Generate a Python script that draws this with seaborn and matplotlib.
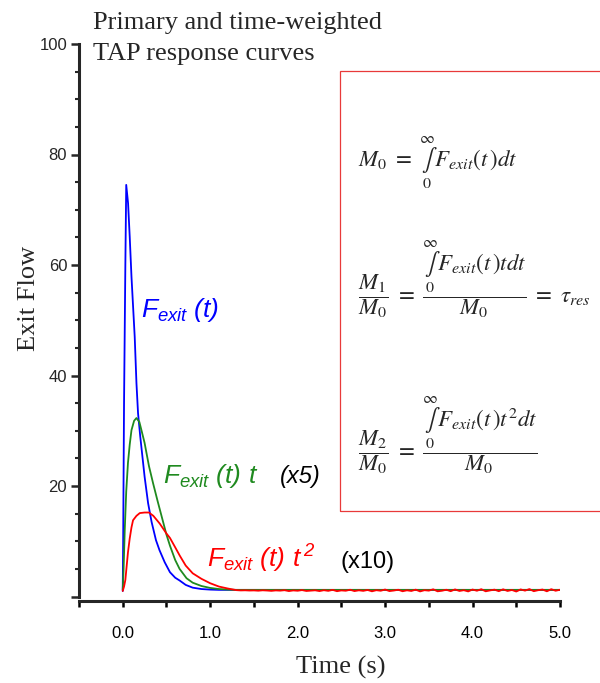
import numpy as np
import pandas as pd
import matplotlib
matplotlib.use("Agg")
import matplotlib.pyplot as plt
import matplotlib.patches as patches
from matplotlib.ticker import MultipleLocator, FixedLocator
import seaborn as sns

# ---------------- data ----------------
blue_t = [0.0, 0.005, 0.015, 0.03, 0.04, 0.061, 0.08, 0.10, 0.137, 0.157, 0.175,
          0.20, 0.25, 0.29, 0.33, 0.38, 0.42, 0.48, 0.54, 0.60, 0.65, 0.72, 0.80,
          0.90, 1.0, 1.1, 1.2, 1.5, 2.0, 3.0, 4.0, 5.0]
blue_v = [1.0, 10.0, 35.0, 60.0, 74.5, 71.2, 65.1, 57.9, 47.0, 38.6, 33.2,
          29.0, 21.7, 16.9, 13.5, 10.2, 8.4, 6.2, 4.4, 3.4, 2.9, 2.1, 1.6,
          1.35, 1.25, 1.2, 1.2, 1.2, 1.2, 1.2, 1.2, 1.2]

green_t = [0.0, 0.01, 0.023, 0.04, 0.06, 0.08, 0.10, 0.13, 0.157, 0.19, 0.214,
           0.25, 0.30, 0.347, 0.40, 0.45, 0.50, 0.54, 0.60, 0.65, 0.73, 0.80,
           0.90, 1.0, 1.1, 1.2, 1.3, 1.5, 2.0, 3.0, 4.0, 5.0]
green_v = [1.2, 5.0, 12.0, 19.0, 24.2, 27.5, 30.1, 31.8, 32.3, 31.6, 30.1,
           27.8, 23.6, 20.5, 17.2, 14.2, 11.2, 9.2, 6.6, 5.0, 3.3, 2.5,
           1.9, 1.55, 1.35, 1.25, 1.2, 1.2, 1.2, 1.2, 1.2, 1.2]

red_t = [0.0, 0.015, 0.03, 0.045, 0.06, 0.08, 0.10, 0.118, 0.157, 0.195, 0.25,
         0.30, 0.35, 0.423, 0.50, 0.54, 0.60, 0.652, 0.72, 0.80, 0.90, 1.0,
         1.1, 1.2, 1.25]
red_v = [1.0, 1.8, 3.0, 5.5, 8.0, 10.5, 12.5, 13.8, 14.6, 15.1, 15.2,
         15.2, 14.6, 13.2, 11.4, 10.6, 8.9, 7.4, 5.6, 4.2, 3.2, 2.4,
         1.8, 1.45, 1.3]
# noisy tail of the red trace, t = 1.30 ... 5.00 step 0.05
red_tail_t = [round(1.30 + 0.05 * i, 2) for i in range(75)]
red_tail_v = [1.15, 1.10, 1.12, 1.08, 1.10, 1.05, 1.12, 1.08, 1.02, 1.10,
              1.06, 1.14, 0.98, 1.10, 1.04, 1.16, 1.00, 1.06, 1.12, 0.98,
              1.14, 1.02, 1.20, 0.96, 1.10, 1.04, 1.22, 0.98, 1.12, 1.02,
              1.18, 0.94, 1.14, 1.04, 1.26, 0.98, 1.08, 1.22, 0.95, 1.12,
              1.00, 1.24, 0.92, 1.14, 1.06, 1.30, 0.94, 1.04, 1.22, 0.96,
              1.28, 1.00, 1.14, 0.92, 1.26, 1.04, 1.32, 0.94, 1.10, 1.24,
              0.96, 1.30, 1.00, 1.18, 0.90, 1.28, 1.06, 1.34, 0.96, 1.14,
              1.26, 0.94, 1.32, 1.04, 1.22]

x_tick_vals = [0.0, 1.0, 2.0, 3.0, 4.0, 5.0]
x_tick_labels = ["0.0", "1.0", "2.0", "3.0", "4.0", "5.0"]
y_tick_vals = [0, 20, 40, 60, 80, 100]
y_tick_labels = ["", "20", "40", "60", "80", "100"]

title_lines = ["Primary and time-weighted", "TAP response curves"]
x_label = "Time (s)"
y_label = "Exit Flow"

# ---------------- style ----------------
sns.set_style("ticks")
plt.rcParams["font.family"] = ["Liberation Sans", "DejaVu Sans"]
plt.rcParams["mathtext.fontset"] = "custom"
plt.rcParams["mathtext.rm"] = "Liberation Sans:italic"
plt.rcParams["mathtext.it"] = "Liberation Sans:italic"
plt.rcParams["mathtext.bf"] = "Liberation Sans:bold"

W, H = 600, 683
fig = plt.figure(figsize=(W / 100, H / 100), dpi=100)
fig.patch.set_facecolor("white")


def fx(x):
    return x / W


def fy(y):
    return 1 - y / H


ax = fig.add_axes([fx(79), fy(596.5), (560 - 79) / W, (596.5 - 44) / H])
ax.set_facecolor("white")

blue_df = pd.DataFrame({"t": blue_t, "v": blue_v})
green_df = pd.DataFrame({"t": green_t, "v": green_v})
red_df = pd.DataFrame({"t": red_t + red_tail_t, "v": red_v + red_tail_v})

sns.lineplot(data=blue_df, x="t", y="v", color="#0000ff", lw=1.3,
             estimator=None, sort=False, ax=ax)
sns.lineplot(data=green_df, x="t", y="v", color="#1f8a1f", lw=1.3,
             estimator=None, sort=False, ax=ax)
sns.lineplot(data=red_df, x="t", y="v", color="#ff0000", lw=1.3,
             estimator=None, sort=False, ax=ax)

ax.set_xlim(-0.5, 5.0)
ax.set_ylim(0, 100)
ax.set_xlabel("")
ax.set_ylabel("")

for s in ["top", "right"]:
    ax.spines[s].set_visible(False)
ax.spines["left"].set_linewidth(2.2)
ax.spines["bottom"].set_linewidth(2.2)
ax.spines["bottom"].set_position(("outward", 3))
ax.spines["left"].set_bounds(0, 100)
ax.spines["bottom"].set_bounds(-0.5, 5.0)

ax.xaxis.set_major_locator(FixedLocator(x_tick_vals))
ax.set_xticklabels(x_tick_labels)
ax.xaxis.set_minor_locator(FixedLocator([-0.5, 0.5, 1.5, 2.5, 3.5, 4.5]))
ax.yaxis.set_major_locator(FixedLocator(y_tick_vals))
ax.set_yticklabels(y_tick_labels)
ax.yaxis.set_minor_locator(MultipleLocator(5))

ax.tick_params(axis="x", which="both", direction="out", length=4, width=1.8,
               pad=14, labelsize=12, colors="black")
ax.tick_params(axis="y", which="major", direction="out", length=5.5, width=1.8,
               pad=3, labelsize=12)
ax.tick_params(axis="y", which="minor", direction="out", length=3, width=1.5)

serif = ["Liberation Serif", "DejaVu Serif"]
fig.text(fx(93), fy(29.5), title_lines[0], family=serif, fontsize=19,
         va="baseline", ha="left")
fig.text(fx(93), fy(60), title_lines[1], family=serif, fontsize=19,
         va="baseline", ha="left")
fig.text(fx(29), fy(298), y_label, family=serif, fontsize=19,
         rotation=90, va="center", ha="center")
fig.text(fx(341), fy(674), x_label, family=serif, fontsize=19,
         va="baseline", ha="center")

# curve labels
fig.text(fx(141), fy(317), r"$F_{exit}\ (t)$", color="#0000ff",
         fontsize=19, va="baseline", ha="left")
fig.text(fx(163), fy(483), r"$F_{exit}\ (t)\ t$", color="#1f8a1f",
         fontsize=19, va="baseline", ha="left")
fig.text(fx(280), fy(483), "(x5)", color="black", style="italic",
         fontsize=17, va="baseline", ha="left")
fig.text(fx(207), fy(568), r"$F_{exit}\ (t)\ t^{\,2}$", color="#ff0000",
         fontsize=19, va="baseline", ha="left")
fig.text(fx(340), fy(568), "(x10)", color="black",
         fontsize=17, va="baseline", ha="left")

# equation box
rect = patches.Rectangle((fx(340), fy(511)), (620 - 340) / W, (511 - 71) / H,
                         transform=fig.transFigure, fill=False,
                         edgecolor="#e83a3a", lw=0.9, clip_on=False)
fig.add_artist(rect)

integ = r"\overset{\infty}{\underset{\mathit{0}}{\int}}"
m0 = r"M_{\mathit{0}}"
eq1 = r"$" + m0 + r"\ =\ " + integ + r"F_{exit}(t\,)dt$"
eq2 = (r"$\dfrac{M_{\mathit{1}}}{" + m0 + r"}\ =\ \dfrac{" + integ +
       r"F_{exit}(t\,)tdt}{" + m0 + r"}\ =\ \tau_{res}$")
eq3 = (r"$\dfrac{M_{\mathit{2}}}{" + m0 + r"}\ =\ \dfrac{" + integ +
       r"F_{exit}(t\,)t^2dt}{" + m0 + r"}$")
fig.text(fx(358), fy(167), eq1, fontsize=16.5, math_fontfamily="stix",
         va="baseline", ha="left")
fig.text(fx(358), fy(302), eq2, fontsize=16.5, math_fontfamily="stix",
         va="baseline", ha="left")
fig.text(fx(358), fy(458), eq3, fontsize=16.5, math_fontfamily="stix",
         va="baseline", ha="left")

fig.savefig("out.png", dpi=100, facecolor="white")
